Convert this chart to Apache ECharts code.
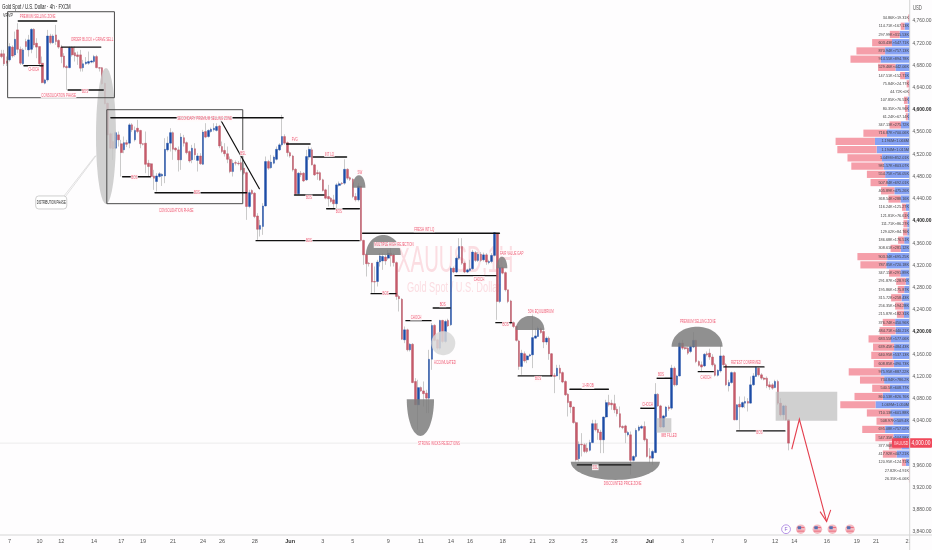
<!DOCTYPE html>
<html><head><meta charset="utf-8">
<style>html,body{margin:0;padding:0;background:#fefdfe}#c{width:932px;height:550px}</style>
<script src="https://cdn.jsdelivr.net/npm/echarts@6/dist/echarts.min.js"></script></head>
<body><div id="c"></div>
<script>
// ---------- price data: [open, close, low, high]
const ohlc = [
[4701,4696,4693,4708],[4701,4683,4679,4708],[4688,4684,4679,4696],[4690,4714,4687,4720],[4713,4697,4694,4716],[4699,4727,4696,4741],[4744,4709,4702,4756],[4709,4684,4681,4714],[4683,4708,4681,4711],[4723,4714,4708,4728],
[4708,4726,4696,4735],[4709,4745,4702,4747],[4745,4717,4712,4747],[4720,4713,4693,4729],[4714,4683,4678,4714],[4684,4649,4648,4696],[4648,4654,4646,4656],[4654,4733,4651,4744],[4733,4721,4718,4737],[4721,4733,4719,4736],
[4735,4723,4717,4753],[4725,4713,4710,4727],[4713,4696,4684,4717],[4697,4677,4675,4702],[4678,4676,4636,4681],[4676,4712,4675,4714],[4712,4699,4696,4714],[4703,4697,4687,4714],[4699,4696,4681,4705],[4699,4675,4669,4708],
[4676,4683,4669,4690],[4683,4686,4681,4695],[4684,4687,4681,4705],[4686,4688,4684,4690],[4687,4696,4684,4699],[4696,4676,4675,4699],[4676,4675,4669,4677],[4676,4647,4645,4677],[4648,4611,4610,4649],[4612,4555,4554,4613],
[4557,4531,4529,4559],[4543,4530,4510,4558],[4531,4559,4529,4561],[4555,4546,4534,4561],[4539,4523,4480,4546],[4528,4541,4522,4552],[4541,4538,4533,4546],[4540,4573,4531,4576],[4573,4564,4560,4576],[4546,4563,4543,4570],
[4567,4561,4558,4582],[4563,4539,4531,4564],[4539,4538,4536,4540],[4540,4502,4486,4561],[4504,4498,4480,4510],[4503,4480,4477,4504],[4481,4477,4456,4492],[4471,4481,4453,4486],[4480,4485,4478,4488],[4481,4484,4463,4486],
[4481,4529,4468,4549],[4528,4540,4525,4552],[4540,4559,4525,4567],[4559,4529,4510,4561],[4531,4528,4525,4533],[4528,4510,4489,4534],[4510,4551,4492,4558],[4550,4540,4534,4555],[4541,4523,4520,4543],[4525,4508,4505,4527],
[4510,4531,4504,4537],[4530,4519,4510,4540],[4509,4517,4489,4522],[4517,4503,4501,4522],[4502,4560,4501,4564],[4561,4551,4549,4576],[4552,4563,4550,4565],[4561,4565,4559,4568],[4564,4567,4561,4576],[4563,4570,4561,4576],
[4571,4535,4531,4573],[4534,4525,4522,4543],[4527,4521,4516,4540],[4521,4511,4504,4534],[4511,4489,4486,4516],[4489,4504,4480,4510],[4505,4504,4500,4509],[4504,4503,4500,4508],[4505,4492,4489,4522],[4495,4486,4483,4504],
[4487,4426,4402,4489],[4426,4451,4423,4456],[4455,4449,4447,4457],[4450,4408,4405,4452],[4409,4385,4366,4414],[4385,4392,4372,4402],[4390,4427,4375,4432],[4427,4507,4426,4516],[4507,4495,4492,4510],[4496,4506,4494,4519],
[4504,4515,4502,4518],[4511,4529,4509,4534],[4528,4537,4526,4540],[4537,4552,4534,4591],[4552,4540,4537,4556],[4541,4523,4516,4543],[4523,4517,4514,4525],[4517,4492,4489,4519],[4493,4449,4447,4495],[4449,4486,4447,4488],
[4486,4483,4479,4490],[4486,4472,4470,4488],[4474,4516,4472,4528],[4515,4529,4510,4534],[4528,4501,4500,4532],[4501,4483,4481,4503],[4487,4485,4474,4492],[4487,4474,4472,4489],[4474,4455,4453,4476],[4456,4441,4439,4458],
[4444,4440,4426,4465],[4441,4435,4433,4443],[4438,4431,4423,4447],[4431,4465,4423,4468],[4464,4467,4462,4471],[4468,4467,4465,4470],[4468,4493,4465,4511],[4493,4477,4474,4495],[4478,4475,4472,4480],[4475,4444,4441,4477],
[4444,4438,4435,4450],[4438,4463,4435,4468],[4463,4365,4363,4463],[4365,4339,4321,4366],[4340,4323,4300,4342],[4324,4323,4318,4326],[4324,4290,4270,4324],[4291,4290,4271,4318],[4291,4326,4282,4330],[4326,4337,4318,4342],
[4328,4336,4312,4342],[4335,4328,4321,4339],[4333,4342,4330,4348],[4342,4337,4318,4354],[4339,4325,4318,4342],[4325,4264,4258,4327],[4264,4260,4237,4267],[4259,4187,4186,4261],[4186,4204,4180,4210],[4204,4168,4165,4206],
[4168,4178,4165,4180],[4178,4109,4108,4180],[4111,4069,4069,4117],[4069,4100,4024,4114],[4100,4094,4092,4102],[4094,4089,4066,4111],[4090,4081,4054,4096],[4081,4151,4054,4168],[4151,4212,4132,4216],[4212,4185,4183,4214],
[4186,4171,4168,4188],[4171,4221,4168,4222],[4221,4183,4180,4222],[4183,4219,4180,4222],[4221,4211,4209,4224],[4213,4315,4211,4318],[4315,4308,4306,4318],[4308,4333,4306,4336],[4333,4354,4330,4369],[4354,4324,4321,4369],
[4324,4308,4306,4327],[4308,4312,4306,4314],[4311,4314,4309,4330],[4314,4344,4312,4348],[4343,4329,4326,4346],[4329,4340,4326,4344],[4340,4329,4326,4344],[4330,4339,4327,4343],[4339,4326,4321,4342],[4325,4327,4322,4330],
[4327,4338,4324,4342],[4338,4379,4336,4380],[4378,4255,4222,4379],[4255,4316,4252,4321],[4316,4306,4304,4318],[4307,4276,4273,4309],[4276,4255,4252,4276],[4256,4216,4214,4258],[4217,4210,4207,4219],[4210,4185,4183,4212],
[4184,4138,4132,4186],[4138,4162,4123,4168],[4161,4148,4145,4165],[4150,4157,4144,4159],[4157,4159,4155,4161],[4159,4190,4135,4234],[4189,4193,4188,4207],[4192,4207,4191,4210],[4206,4199,4197,4208],[4201,4182,4171,4204],
[4182,4189,4177,4192],[4189,4161,4150,4192],[4161,4121,4120,4162],[4122,4120,4090,4126],[4121,4135,4120,4141],[4135,4126,4114,4141],[4127,4110,4108,4129],[4111,4087,4085,4113],[4088,4073,4048,4090],[4075,4065,4054,4075],
[4065,4037,4035,4066],[4037,3970,3967,4039],[3972,3998,3967,4003],[3998,3997,3976,4018],[3997,3985,3982,4000],[3991,3985,3982,4000],[3987,4001,3985,4006],[4001,4035,4000,4042],[4035,4024,4021,4042],[4025,4019,4006,4036],
[4020,4006,3982,4024],[4006,4047,3982,4048],[4047,4073,4045,4078],[4073,4069,4066,4087],[4072,4069,4060,4078],[4071,4060,4054,4087],[4061,4053,4048,4066],[4053,4029,4027,4066],[4030,4028,4025,4032],[4031,4019,4000,4033],
[4015,4019,4012,4022],[4015,3969,3943,4021],[3969,3976,3967,3978],[3976,4023,3973,4027],[4023,4029,4021,4032],[4027,4030,4025,4033],[4030,4006,4003,4039],[4007,3976,3974,4009],[3977,3973,3964,3991],[3973,3985,3961,3988],
[3983,4088,3982,4108],[4088,4067,4065,4090],[4067,4029,4027,4069],[4029,4049,4027,4051],[4048,4065,4045,4067],[4065,4062,4058,4068],[4063,4135,4060,4141],[4135,4105,4102,4138],[4105,4121,4103,4123],[4121,4180,4120,4183],
[4180,4171,4168,4186],[4172,4170,4168,4174],[4171,4162,4159,4174],[4165,4174,4162,4176],[4173,4185,4171,4200],[4185,4147,4144,4186],[4147,4140,4138,4149],[4141,4137,4129,4147],[4139,4160,4137,4162],[4161,4159,4156,4165],
[4162,4155,4150,4170],[4155,4141,4138,4160],[4141,4122,4120,4144],[4122,4131,4120,4133],[4130,4157,4127,4177],[4157,4141,4139,4159],[4141,4105,4103,4144],[4103,4109,4093,4114],[4109,4127,4107,4129],[4127,4042,4041,4129],
[4042,4069,4041,4070],[4070,4065,4024,4084],[4065,4073,4063,4075],[4072,4075,4063,4084],[4075,4072,4057,4081],[4072,4105,4071,4120],[4105,4121,4103,4126],[4120,4136,4119,4138],[4135,4123,4120,4136],[4123,4117,4114,4126],
[4117,4115,4113,4119],[4117,4103,4099,4120],[4105,4101,4096,4111],[4105,4099,4096,4108],[4100,4111,4099,4114],[4111,4072,4069,4114],[4072,4051,4048,4081],[4051,4067,4042,4069],[4067,4042,4041,4069],[4042,4000,3987,4043]
];
const slotCount = 334;                         // bar slots across the time axis, including the empty future
const xTickIndex = [3,14,22,34,44,52,63,74,81,93,106,118,129,142,154,165,172,184,195,202,214,225,238,250,261,273,284,291,303,314,321,333];
const xTickText  = ['7','10','12','14','17','19','21','24','26','28','Jun','3','5','9','11','14','16','18','21','23','25','28','Jul','3','7','9','12','14','16','19','21','23'];
const boldPrices = [4600,4400,4200,4000];

// ---------- visible range volume profile (thousands), top row first
const volSell = [34.86,114.71,297.99,603.43,870.94,914.55,529.46,147.51,75.84,44.72,107.85,80.35,61.24,347.13,716.87,1196,1194,1049,981.57,554.75,507.84,405.89,368.54,116.24,121.81,111.71,129.02,186.68,308.61,903.34,787.85,347.15,291.87,195.86,315.72,256.35,215.87,376.74,484.71,683.55,639.45,640.95,608.85,975.95,734.84,540.5,860.53,1069,710.13,508.97,695.08,547.35,377.96,417.92,120.95,27.82,26.35];
const volBuy  = [19.31,167.13,315.53,547.71,757.13,894.78,442.06,152.71,24.77,0,76.51,70.96,67.14,275.72,700.06,1066,1015,852.01,803.07,756.05,692.01,475.26,288.16,125.27,76.61,86.27,84.76,176.51,281.12,695.25,720.18,291.89,128.91,175.87,258.43,194.28,182.31,450.96,440.21,577.06,484.43,537.13,490.73,887.22,786.2,608.77,826.76,1050,601.88,509.4,757.02,504.98,263.12,407.21,124.71,4.91,6.06];

// ---------- drawn annotations, in [bar number, price]
const levels = [[6.2,20.3,4760],[8.3,15.2,4679.5],[22.1,36.5,4713],[24.5,37.4,4635.8],[40.2,103.4,4585.9],[44.5,54.6,4479.7],[56.4,90,4450.9],[93.5,131.3,4364.5],[104.7,113.3,4538.6],[107.6,118.4,4446.8],[114.5,126.7,4515.2],[119.4,131.4,4422.1],[132.6,182.8,4377.9],[135.7,144.8,4269.1],[148.5,157.7,4220.5],[158.5,164.7,4243.4],[166.5,181.5,4301.5],[181.5,187.3,4216.9],[189.7,202,4121],[208.7,222.8,4097],[211.4,231,3960.8],[234.7,239.6,4062.9],[240.7,246,4116.9],[255.8,261.3,4128.7],[265.2,279.9,4137.2],[269.9,287.6,4022]];
const trendLine = [[80.5,4581.8],[94.7,4458.1]];
const frames = [[2.3,4776.7,41.5,4621.9],[38.7,4600.3,88.6,4431.1]];
const zones = [[284.2,4092.7,306.8,4040.5],[240.5,4044.9,245.9,4018.9]];
const ellipses = [[38.4,4553,3.67,122.4,'#c9c9c9'],[162.2,4179.9,4.4,21.6,'#d8d8d8']];
const domes = [[128.9,133.6,4460,4482.3],[133.8,146.6,4338.8,4374.8],[181.8,185.7,4314.9,4335.7],[188.8,199.3,4203.8,4229],[246,264.7,4173.7,4209.7],[148.8,158.8,4079,4013],[209,241.7,3966.7,3933.8]];
const notes = [['PREMIUM SELLING ZONE',13.3,4769],['CHOCH',11.9,4673.6],['ORDER BLOCK + GRAVE SELL',33.3,4726.7],['BOS',30.7,4632.7],['CONSOLIDATION PHASE',21,4626.3],['SECONDARY PREMIUM SELLING ZONE',74.6,4584.5],['BSL',88.7,4522.4],['BOS',48.8,4478.7],['BOS',71.8,4450.9],['CONSOLIDATION PHASE',64.2,4419.8],['BOS',112.9,4364.5],['FVG',107.7,4547.6],['BOS',112.9,4442],['INT LQ',120.4,4520.6],['BOS',123.9,4418],['SW',131.6,4488.2],['FRESH INT LQ',155.2,4385],['MULTIPLE HIGH REJECTION',144.1,4356.8],['BOS',141,4269],['CHOCH',152.2,4225.9],['BOS',162,4250],['ACCUMULATED',162.8,4145.7],['STRONG WICKS REJECTIONS',160.6,4000],['CHOCH',175.3,4295],['FAIR VALUE GAP',187.3,4341.9],['BOS',185.1,4214],['50% EQUILIBRIUM',198,4236.8],['BOS',197,4115.6],['1 HR OB',215.3,4103],['SSL',218,3956.7],['DISCOUNTED PRICE ZONE',228,3926.6],['PREMIUM SELLING ZONE',255.6,4219.5],['CHOCH',237.2,4070],['BOS',242.1,4124],['IMB FILLED',245,4013.5],['CHOCH',258.6,4117.9],['RETEST CONFIRMED',273.3,4145],['BOS',278.2,4018.9]];
const arrowPath = [[290.1,3989],[292.9,4043],[302.9,3858.8]];
const arrowHead = [[300.5,3876.7],[302.9,3858.8],[304.4,3879.8]];
const calloutBox = [12.6,4445,24,4421.6];
const calloutLines = [[23.7,4445,34.7,4517],[23,4445,34.4,4517]];
const eventIcons = [[288,3845,'F'],[293.4,3845,'US'],[299.5,3845,'US'],[305,3845,'US'],[311.5,3845,'US']];
const lastPrice = 4000;

// ---------- derived
const categories = Array.from({length:slotCount},()=> '');
xTickIndex.forEach((idx,i)=>{categories[idx]=xTickText[i];});
const rows = volSell.map((_,i)=>String(i));
const fmtVol = v => v>=1000 ? (v/1000).toFixed(3)+'M' : (+v.toFixed(2))+'K';
const FONT='Liberation Sans';
const NOTE='#ee5f78', BG='#fefdfe';

function customOn(dataLen, renderItem, z){
  return {type:'custom',xAxisIndex:1,yAxisIndex:0,clip:false,z:z||5,silent:true,
    data:Array.from({length:dataLen},(_,i)=>[0,lastPrice]),renderItem:renderItem};
}
const lineEl=(a,b,stroke,w)=>({type:'line',shape:{x1:a[0],y1:a[1],x2:b[0],y2:b[1]},style:{stroke:stroke,lineWidth:w,lineCap:'round'}});
function ellipsePts(api,cb,cp,rb,rp,from,to){
  const pts=[];
  for(let k=0;k<=40;k++){const t=from+(to-from)*k/40;pts.push(api.coord([cb+rb*Math.cos(t),cp+rp*Math.sin(t)]));}
  return pts;
}

const series = [
 {type:'custom',xAxisIndex:1,yAxisIndex:0,z:1,silent:true,clip:false,data:[[0,lastPrice]],
  renderItem:(p,api)=>{const y=api.coord([0,lastPrice])[1];return lineEl([0,y],[910,y],'#ececec',1);}},
 // wicks
 {type:'candlestick',z:2,barWidth:1,silent:true,data:ohlc,
  itemStyle:{color:'#bdbdbd',color0:'#bdbdbd',borderColor:'#bdbdbd',borderColor0:'#bdbdbd',borderWidth:.8}},
 // bodies
 {type:'candlestick',z:3,barWidth:2.1,silent:true,data:ohlc.map(r=>[r[0],r[1],Math.min(r[0],r[1]),Math.max(r[0],r[1])]),
  itemStyle:{color:'#1c4ca6',color0:'#c75a6a',borderColor:'#1c4ca6',borderColor0:'#b94f60',borderWidth:.4}},
 // profile
 {type:'bar',xAxisIndex:2,yAxisIndex:1,stack:'v',barWidth:7.2,z:2,silent:true,data:volBuy,itemStyle:{color:'#86a2f4'},
  label:{show:true,position:'insideRight',distance:1,align:'right',fontFamily:FONT,fontSize:3.8,color:'#444',
   formatter:p=>fmtVol(volSell[p.dataIndex])+'×'+fmtVol(volBuy[p.dataIndex])},labelLayout:{hideOverlap:false}},
 {type:'bar',xAxisIndex:2,yAxisIndex:1,stack:'v',barWidth:7.2,z:2,silent:true,data:volSell,itemStyle:{color:'#f59ea9'}},
 // grey zones
 customOn(zones.length,(p,api)=>{const r=zones[p.dataIndex],a=api.coord([r[0],r[1]]),b=api.coord([r[2],r[3]]);
   return {type:'rect',shape:{x:a[0],y:a[1],width:b[0]-a[0],height:b[1]-a[1]},style:{fill:'rgba(190,190,190,.72)'}};},4),
 customOn(ellipses.length,(p,api)=>{const e=ellipses[p.dataIndex];
   return {type:'polygon',shape:{points:ellipsePts(api,e[0],e[1],e[2],e[3],0,2*Math.PI)},style:{fill:e[4],opacity:.85}};},4),
 customOn(domes.length,(p,api)=>{const d=domes[p.dataIndex],cb=(d[0]+d[1])/2;
   return {type:'polygon',shape:{points:ellipsePts(api,cb,d[2],(d[1]-d[0])/2,d[3]-d[2],0,Math.PI)},style:{fill:'rgba(125,125,125,.85)'}};},4),
 // frames
 customOn(frames.length,(p,api)=>{const r=frames[p.dataIndex],a=api.coord([r[0],r[1]]),b=api.coord([r[2],r[3]]);
   return {type:'rect',shape:{x:a[0],y:a[1],width:b[0]-a[0],height:b[1]-a[1]},style:{fill:'none',stroke:'#4a4a4a',lineWidth:1}};},5),
 // levels
 customOn(levels.length,(p,api)=>{const s=levels[p.dataIndex];
   return lineEl(api.coord([s[0],s[2]]),api.coord([s[1],s[2]]),'#111',1.4);},6),
 customOn(1,(p,api)=>lineEl(api.coord(trendLine[0]),api.coord(trendLine[1]),'#111',1.2),6),
 // red arrow
 customOn(1,(p,api)=>({type:'group',children:[
   {type:'polyline',shape:{points:arrowPath.map(q=>api.coord(q))},style:{fill:'none',stroke:'#e4404f',lineWidth:1.1}},
   {type:'polyline',shape:{points:arrowHead.map(q=>api.coord(q))},style:{fill:'none',stroke:'#e4404f',lineWidth:1.1}}]}),7),
 // callout
 customOn(1,(p,api)=>{const a=api.coord([calloutBox[0],calloutBox[1]]),b=api.coord([calloutBox[2],calloutBox[3]]);
   const kids=calloutLines.map(l=>lineEl(api.coord([l[0],l[1]]),api.coord([l[2],l[3]]),'#b5b5b5',.4));
   kids.push({type:'rect',shape:{x:a[0],y:a[1],width:b[0]-a[0],height:b[1]-a[1],r:3},style:{fill:'#fff',stroke:'#bbb',lineWidth:.7}});
   kids.push({type:'text',x:(a[0]+b[0])/2,y:(a[1]+b[1])/2,scaleX:.52,style:{text:'DISTRIBUTION PHASE',fontFamily:FONT,fontSize:5.2,fill:'#222',align:'center',verticalAlign:'middle'}});
   return {type:'group',children:kids};},7),
 // text notes
 customOn(notes.length,(p,api)=>{const n=notes[p.dataIndex],c=api.coord([n[1],n[2]]);
   return {type:'text',x:c[0],y:c[1],scaleX:.52,style:{text:n[0],fontFamily:FONT,fontSize:5.6,fill:NOTE,align:'center',verticalAlign:'middle',backgroundColor:'rgba(255,250,251,.9)',padding:[0,1]}};},8),
 // event icons
 customOn(eventIcons.length,(p,api)=>{const e=eventIcons[p.dataIndex],c=api.coord([e[0],e[1]]);
   if(e[2]==='F') return {type:'group',children:[
     {type:'circle',shape:{cx:c[0],cy:c[1],r:4.4},style:{fill:'#fff',stroke:'#a67be0',lineWidth:.8}},
     {type:'text',x:c[0],y:c[1],style:{text:'F',fontFamily:FONT,fontSize:5,fill:'#8a5fd0',align:'center',verticalAlign:'middle'}}]};
   return {type:'group',children:[
     {type:'circle',shape:{cx:c[0],cy:c[1],r:4.8},style:{fill:'#f5b9c1'}},
     {type:'rect',shape:{x:c[0]-3.6,y:c[1]-2.2,width:7.2,height:1},style:{fill:'#eb6c7c'}},
     {type:'rect',shape:{x:c[0]-3.6,y:c[1]+1.4,width:7.2,height:1},style:{fill:'#eb6c7c'}},
     {type:'rect',shape:{x:c[0]-3,y:c[1]-3,width:3.4,height:3},style:{fill:'#5570b0'}}]};},7),
 // last price tag
 customOn(1,(p,api)=>{const y=api.coord([0,lastPrice])[1];
   return {type:'group',children:[
     {type:'rect',shape:{x:892,y:y-4.8,width:40,height:9.4,r:1},style:{fill:'#f0485a'}},
     {type:'text',x:901,y:y,scaleX:.7,style:{text:'XAUUSD',fontFamily:FONT,fontSize:5,fill:'#ffe3e6',align:'center',verticalAlign:'middle'}},
     {type:'text',x:921,y:y,scaleX:.72,style:{text:'4,000.00',fontFamily:FONT,fontSize:6.8,fill:'#fff',align:'center',verticalAlign:'middle'}}]};},9)
];

const option = {
 animation:false,backgroundColor:BG,
 grid:[{left:0,top:21,width:910,height:511,outerBoundsMode:'none'},{left:780,top:13.9,width:130,height:469,outerBoundsMode:'none'}],
 xAxis:[
  {type:'category',gridIndex:0,data:categories,offset:3,boundaryGap:true,
   axisLine:{show:false},axisTick:{show:false},splitLine:{show:false},
   axisLabel:{interval:0,margin:3,fontFamily:FONT,fontSize:5.5,color:'#555',hideOverlap:false,
    formatter:v=>(v==='Jun'||v==='Jul')?'{b|'+v+'}':v,rich:{b:{fontFamily:FONT,fontSize:5.5,fontWeight:'bold',color:'#333'}}}},
  {type:'value',gridIndex:0,min:-.5,max:slotCount-.5,show:false},
  {type:'value',gridIndex:1,min:0,max:3952,inverse:true,show:false}
 ],
 yAxis:[
  {type:'value',gridIndex:0,position:'right',min:3840,max:4760,interval:40,scale:true,
   axisLine:{show:false},axisTick:{show:false},splitLine:{show:false},
   axisLabel:{margin:2.5,fontFamily:FONT,fontSize:4.9,color:'#555',
    formatter:v=>{const s=v.toLocaleString('en-US',{minimumFractionDigits:2,maximumFractionDigits:2});return boldPrices.includes(v)?'{b|'+s+'}':s;},
    rich:{b:{fontFamily:FONT,fontSize:4.9,fontWeight:'bold',color:'#222'}}}},
  {type:'category',gridIndex:1,data:rows,inverse:true,show:false}
 ],
 graphic:[
  {type:'text',z:-1,x:397,y:243,scaleX:.55,silent:true,style:{text:'XAUUSD,1H',fontFamily:FONT,fontSize:37,fill:'#fbdde2'}},
  {type:'text',z:-1,x:407,y:281,scaleX:.66,silent:true,style:{text:'Gold Spot / U.S. Dollar',fontFamily:FONT,fontSize:14,fill:'#fbdde2'}},
  {type:'text',z:50,x:2,y:3.5,scaleX:.62,silent:true,style:{text:'Gold Spot / U.S. Dollar · 4h · FXCM',fontFamily:FONT,fontSize:7,fill:'#222'}},
  {type:'text',z:50,x:3,y:12,scaleX:.62,silent:true,style:{text:'VRVP',fontFamily:FONT,fontSize:6,fill:'#333'}},
  {type:'text',z:50,x:913,y:5,scaleX:.65,silent:true,style:{text:'USD',fontFamily:FONT,fontSize:6.5,fill:'#555'}},
  {type:'rect',z:40,silent:true,shape:{x:910,y:536,width:22,height:14},style:{fill:BG}},
  {type:'line',z:41,silent:true,shape:{x1:909.7,y1:0,x2:909.7,y2:550},style:{stroke:'#d6d6d6',lineWidth:1}},
  {type:'line',z:41,silent:true,shape:{x1:0,y1:535,x2:932,y2:535},style:{stroke:'#d6d6d6',lineWidth:1}}
 ],
 series:series
};
echarts.init(document.getElementById('c'),null,{renderer:'canvas'}).setOption(option);
</script></body></html>
